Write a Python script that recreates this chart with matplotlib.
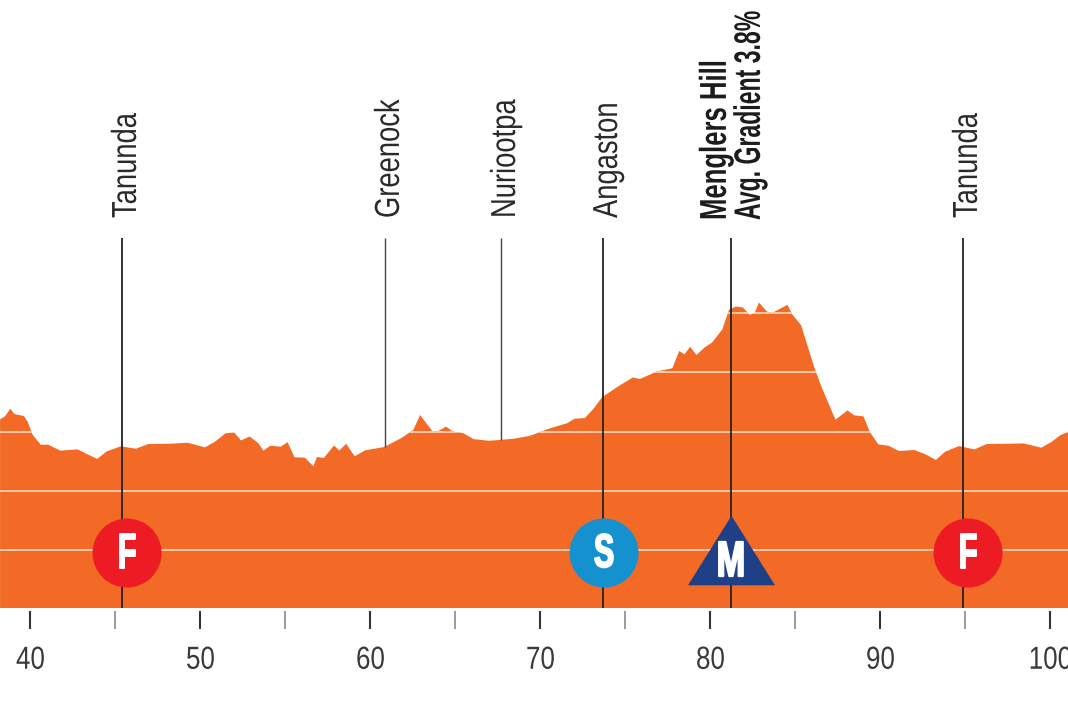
import matplotlib
matplotlib.use("Agg")
import matplotlib.pyplot as plt
from matplotlib.path import Path
from matplotlib.patheffects import AbstractPathEffect
from matplotlib.transforms import Affine2D
import numpy as np

plt.rcParams['font.family'] = ['Liberation Sans', 'DejaVu Sans']

km = [38.21,38.51,38.81,39.06,39.62,39.83,40.13,40.60,41.04,41.75,42.76,43.27,43.92,44.49,45.30,46.21,46.92,48.13,49.25,50.26,
      50.87,51.48,51.98,52.39,52.89,53.40,53.70,54.11,54.72,55.12,55.53,56.14,56.64,56.85,57.25,57.86,58.16,58.57,59.07,59.68,
      60.80,61.81,62.52,62.92,63.63,63.94,64.44,64.85,65.46,66.06,66.98,68.39,69.38,70.39,71.6,72.0,72.61,73.12,73.62,74.63,
      75.44,75.84,76.85,77.76,78.16,78.47,78.81,79.17,79.68,80.08,80.69,81.09,81.49,81.9,82.3,82.6,82.85,83.31,83.61,84.52,
      84.83,85.33,86.14,86.54,87.35,88.06,88.46,89.0,89.37,89.87,90.48,91.08,91.99,92.6,93.26,93.81,94.62,95.53,96.23,98.45,
      99.46,100.07,100.58,101.04]
elev = [317.6,323,335.4,326.5,323,313.8,291.5,274.9,274.9,264.9,267.1,259.9,251,263.8,272.1,268.2,276,276.5,278.2,270.4,
        280.4,294.3,295.4,282.1,288.8,277.6,264.9,273.2,271.5,279.3,253.7,253.2,238.7,254.3,252.6,273.7,264.9,276.5,255.4,265.4,
        271,286,299.9,324.9,298.2,297.1,305.4,297.1,294.3,284.3,281.5,284.9,289.8,300.9,311.5,318.7,319.8,335.4,354.8,374.3,
        388.2,385.4,398.2,403.7,432.6,427.1,439.8,426,439.3,446.5,468.7,502,507.6,506,493.7,496.5,514.3,499.3,496.5,510.4,
        493.7,476,402,371.5,317,332.6,324.3,322.6,296.5,275.4,273.2,264.3,266,259.3,249.3,263.2,272.6,267,276,277,
        269.8,279.8,290.9,296.5]
grid_levels = [97, 197, 296.3, 396.5, 496.6]
major_ticks = [40, 50, 60, 70, 80, 90, 100]
minor_ticks = [45, 55, 65, 75, 85, 95]

place_names = ["Tanunda", "Greenock", "Nuriootpa", "Angaston", "Tanunda"]
place_km = [45.38, 60.85, 67.68, 73.68, 94.85]
place_full = [True, False, False, True, True]
climb_km = 81.2
climb_name = "Menglers Hill"
climb_note = "Avg. Gradient 3.8%"

badge_letters = ["F", "S", "F"]
badge_km = [45.68, 73.74, 95.15]
badge_colors = ["#ed1c24", "#1591cf", "#ed1c24"]
badge_elev = 92.6
climb_badge_elev = 97.6
ORANGE = "#f36a26"


class Tall(AbstractPathEffect):
    """Stretch glyphs across the reading direction, imitating a condensed face."""
    def __init__(self, sy, centered=False, stroke=0.0):
        super().__init__()
        self.sy, self.centered, self.stroke = sy, centered, stroke

    def draw_path(self, renderer, gc, tpath, affine, rgbFace):
        c = 0.0
        if self.centered and len(tpath.vertices):
            c = 0.5 * (tpath.vertices[:, 1].min() + tpath.vertices[:, 1].max())
        t = Affine2D().translate(0, -c).scale(1, self.sy).translate(0, c) + affine
        g = renderer.new_gc()
        g.copy_properties(gc)
        if self.stroke:
            g.set_linewidth(self.stroke)
            g.set_foreground(rgbFace)
        renderer.draw_path(g, tpath, t, rgbFace)
        g.restore()


fig = plt.figure(figsize=(10.68, 7.12), dpi=100, facecolor="white")
ax = fig.add_axes([0, 104/712, 1, 608/712])
ax.set_xlim(38.206, 101.03)
ax.set_ylim(0, 1023.6)
ax.patch.set_visible(False)
for s in ("top", "left", "right"):
    ax.spines[s].set_visible(False)
ax.spines["bottom"].set_position(("outward", 2.2))
ax.spines["bottom"].set_visible(False)
ax.yaxis.set_visible(False)

ax.fill_between(km, elev, 0, color=ORANGE, lw=0, zorder=1)
clip = Path(np.array([[km[0], 0]] + list(zip(km, elev)) + [[km[-1], 0], [km[0], 0]]))
for g in grid_levels:
    ln, = ax.plot([km[0], km[-1]], [g, g], color="#fbd0b4", lw=1.3, zorder=2)
    ln.set_clip_path(clip, ax.transData)

ax.set_xticks(major_ticks)
ax.set_xticks(minor_ticks, minor=True)
ax.tick_params(axis="x", which="major", length=13, width=1.5, color="#333333",
               labelsize=18.7, labelcolor="#3a3a3a", pad=13.4)
ax.tick_params(axis="x", which="minor", length=13, width=1.2, color="#8a8a8a")
for lab in ax.get_xticklabels():
    lab.set_path_effects([Tall(1.23, centered=True)])

line_top = (608 - 238) / 0.594
for name, k, full in zip(place_names, place_km, place_full):
    bottom = 0 if full else np.interp(k, km, elev)
    ax.plot([k, k], [bottom, line_top], color="#222222" if full else "#444444",
            lw=1.3 if full else 1.0, zorder=3, solid_capstyle="butt")
    t = ax.annotate(name, (k, line_top), xytext=(14, 20), textcoords="offset pixels",
                    rotation=90, rotation_mode="anchor", ha="left", va="baseline",
                    fontsize=19.7, color="#2a2a2a", zorder=6)
    t.set_path_effects([Tall(1.27)])
ax.plot([climb_km, climb_km], [0, line_top], color="#222222", lw=1.3, zorder=3, solid_capstyle="butt")
t = ax.annotate(climb_name, (climb_km, line_top), xytext=(-5, 18), textcoords="offset pixels",
                rotation=90, rotation_mode="anchor", ha="left", va="baseline",
                fontsize=18.5, fontweight="bold", color="#1c1c1c")
t.set_path_effects([Tall(1.46)])
t = ax.annotate(climb_note, (climb_km, line_top), xytext=(29, 18), textcoords="offset pixels",
                rotation=90, rotation_mode="anchor", ha="left", va="baseline",
                fontsize=16.6, fontweight="bold", color="#1c1c1c")
t.set_path_effects([Tall(1.6)])

ax.scatter(badge_km, [badge_elev] * len(badge_km), s=2470, c=badge_colors, lw=0, zorder=4)
for k, tx in zip(badge_km, badge_letters):
    size, sy = (21.6, 1.57) if tx == "S" else (21.0, 1.7)
    t = ax.text(k, badge_elev, tx, color="white", fontsize=size, fontweight="bold",
                ha="center", va="center", zorder=5)
    t.set_path_effects([Tall(sy, centered=True, stroke=1.4)])

tri = Path([(-1, -0.8), (1, -0.8), (0, 0.8), (-1, -0.8)], closed=True)
ax.scatter([climb_km], [climb_badge_elev], s=3922, marker=tri, c="#1f3f87", lw=0, zorder=4)
t = ax.text(climb_km, 77, "M", color="white", fontsize=24.6, fontweight="bold",
            ha="center", va="center", zorder=5)
t.set_path_effects([Tall(1.46, centered=True, stroke=1.4)])

fig.savefig("out.png", dpi=100)
